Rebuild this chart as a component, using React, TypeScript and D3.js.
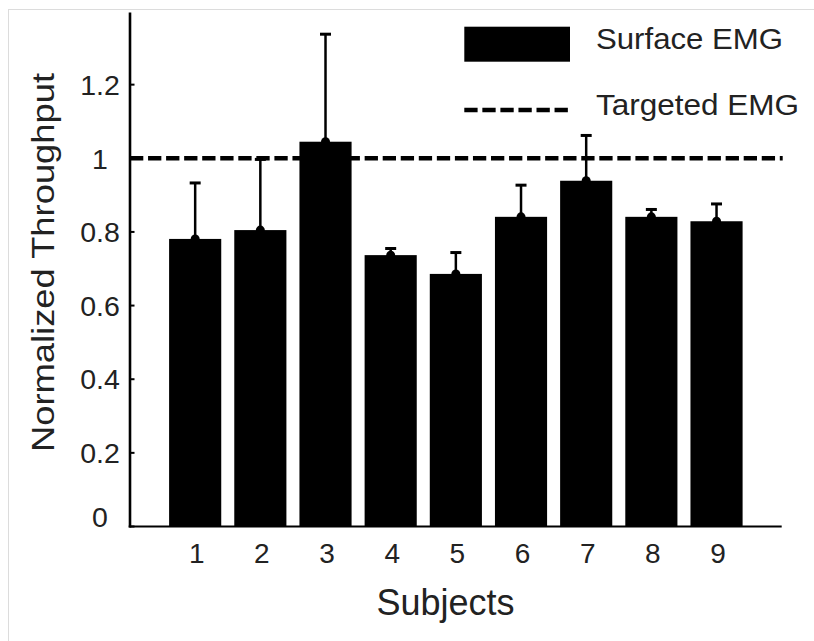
import React from "react";
import * as d3 from "d3";

const subjects = ["1", "2", "3", "4", "5", "6", "7", "8", "9"];
const means = [0.781, 0.805, 1.045, 0.737, 0.686, 0.841, 0.939, 0.841, 0.829];
const errors = [0.152, 0.192, 0.292, 0.018, 0.058, 0.086, 0.123, 0.02, 0.047];
const yTicks = [0, 0.2, 0.4, 0.6, 0.8, 1, 1.2];
const yTickLabels = ["0", "0.2", "0.4", "0.6", "0.8", "1", "1.2"];
const targetedLevel = 1;
const legendLabels = ["Surface EMG", "Targeted EMG"];
const xTitle = "Subjects";
const yTitle = "Normalized Throughput";

const W = 814;
const H = 641;
const FONT = "'Liberation Sans', Arial, Helvetica, sans-serif";

export default function App() {
  const x = d3.scaleLinear().domain([0, 10]).range([130, 781.7]);
  const y = d3.scaleLinear().domain([0, 1.4]).range([526.5, 11]);
  const barW = x(0.8) - x(0);
  const dash = "13.3 4.75";

  return (
    <svg
      width={W}
      height={H}
      viewBox={`0 0 ${W} ${H}`}
      style={{ position: "absolute", left: 0, top: 0, background: "#fff" }}
      fontFamily={FONT}
    >
      <rect x={8.5} y={9.5} width={W} height={H} fill="none" stroke="#dcdcdc" strokeWidth={1} />

      {/* bars */}
      {means.map((m, i) => {
        const cx = x(i + 1);
        const top = y(m);
        const eTop = y(m + errors[i]);
        return (
          <g key={i}>
            <rect x={cx - barW / 2} y={top} width={barW} height={y(0) - top} fill="#000" />
            <line x1={cx} x2={cx} y1={top} y2={eTop} stroke="#000" strokeWidth={2.5} />
            <line x1={cx - 5.5} x2={cx + 5.5} y1={eTop} y2={eTop} stroke="#000" strokeWidth={3} />
            <circle cx={cx} cy={top} r={4.5} fill="#000" />
          </g>
        );
      })}

      {/* targeted EMG dashed line */}
      <line
        x1={x(0)}
        x2={782.7}
        y1={y(targetedLevel)}
        y2={y(targetedLevel)}
        stroke="#000"
        strokeWidth={4.5}
        strokeDasharray={dash}
      />

      {/* axes */}
      <line x1={x(0)} x2={x(0)} y1={y(1.4) + 1.5} y2={y(0) + 1} stroke="#000" strokeWidth={2.6} />
      <line x1={x(0) - 1.3} x2={x(10)} y1={y(0)} y2={y(0)} stroke="#000" strokeWidth={2.2} />

      {yTicks.map((t, i) => (
        <g key={t}>
          <line x1={x(0)} x2={x(0) + 4.5} y1={y(t)} y2={y(t)} stroke="#000" strokeWidth={2} />
          <text
            x={100}
            y={Math.min(y(t), y(0) - 10)}
            dy="0.36em"
            textAnchor="middle"
            fontSize={28.5}
            fill="#222"
          >
            {yTickLabels[i]}
          </text>
        </g>
      ))}

      {subjects.map((s, i) => (
        <text key={s} x={x(i + 1) + 1.5} y={562.7} textAnchor="middle" fontSize={28} fill="#222">
          {s}
        </text>
      ))}

      <text x={445.5} y={615} textAnchor="middle" fontSize={36} fill="#222">
        {xTitle}
      </text>
      <text
        transform="translate(53.5,262.5) rotate(-90)"
        textAnchor="middle"
        fontSize={32}
        fill="#222"
        textLength={379}
        lengthAdjust="spacingAndGlyphs"
      >
        {yTitle}
      </text>

      {/* legend */}
      <rect x={464.3} y={26.7} width={105.7} height={35} fill="#000" />
      <text x={596} y={49.3} fontSize={29} fill="#222" textLength={187} lengthAdjust="spacingAndGlyphs">
        {legendLabels[0]}
      </text>
      <line x1={464.3} x2={570} y1={110} y2={110} stroke="#000" strokeWidth={4.5} strokeDasharray={dash} />
      <text x={596} y={115} fontSize={29} fill="#222" textLength={203} lengthAdjust="spacingAndGlyphs">
        {legendLabels[1]}
      </text>
    </svg>
  );
}
